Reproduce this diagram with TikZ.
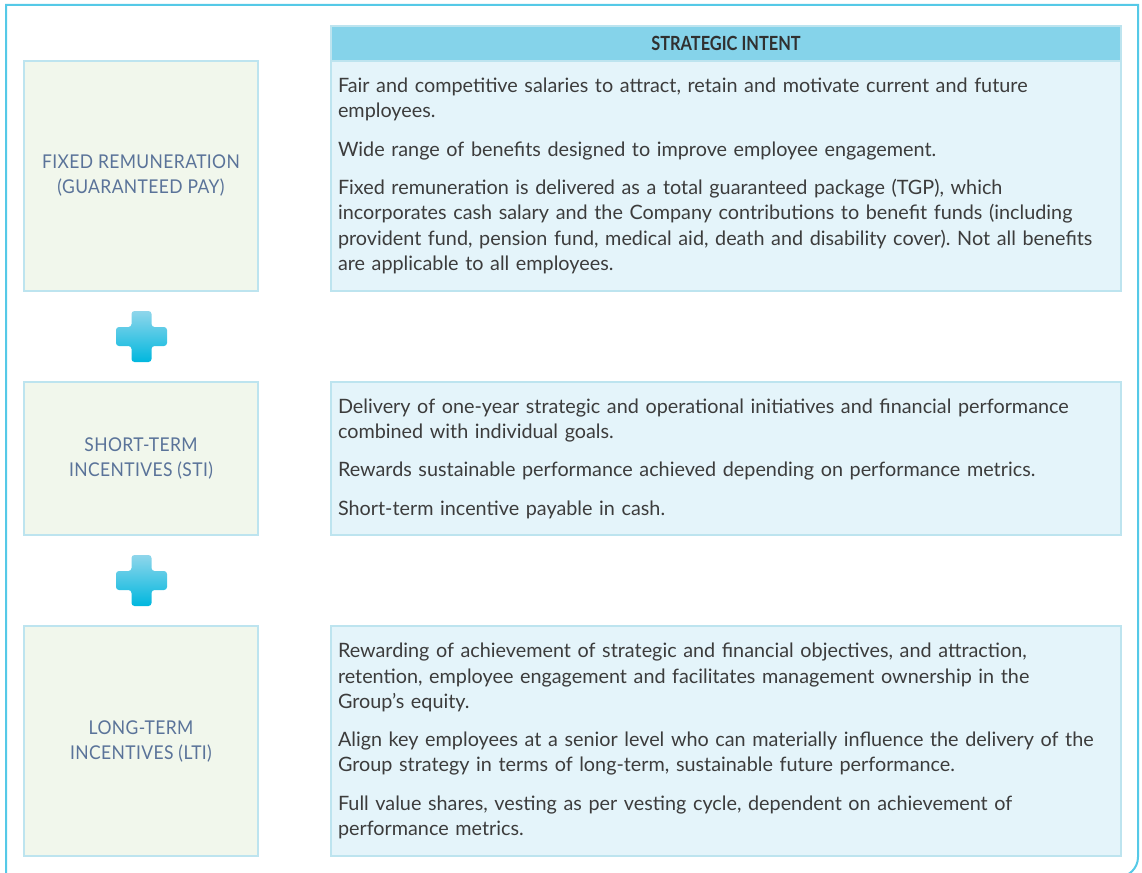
\documentclass[tikz,border=0pt]{standalone}
\usepackage{fontspec}
\setmainfont{Lato}
\newfontfamily\labelfont[LetterSpace=2,FakeStretch=0.92]{Lato}
\usepackage{xcolor}
\usepackage{graphicx}
\usetikzlibrary{positioning}
\frenchspacing

\definecolor{frameblue}{HTML}{55C9E7}
\definecolor{headblue}{HTML}{85D3EA}
\definecolor{bodyblue}{HTML}{E4F4FA}
\definecolor{edgeblue}{HTML}{BDE4EF}
\definecolor{leftgreen}{HTML}{F1F7EC}
\definecolor{labelblue}{HTML}{5A7399}
\definecolor{textgray}{HTML}{3C3C3C}
\definecolor{plustop}{HTML}{8FD6EB}
\definecolor{plusbot}{HTML}{00B7DE}

\begin{document}
\begin{tikzpicture}[
  x=1pt, y=-1pt,
  typebox/.style={rectangle, draw=edgeblue, line width=1.2pt, fill=leftgreen, minimum width=234pt, align=center, text=labelblue, font={\labelfont\fontsize{19}{25}\selectfont}},
  intentbox/.style={rectangle, draw=edgeblue, line width=1.2pt, fill=bodyblue, minimum width=790pt, text width=776pt, inner xsep=7pt, align=left, text=textgray, font={\fontsize{19.8}{25.3}\selectfont}}
]
\useasboundingbox (0,0) rectangle (1142,872);
% outer frame
\draw[frameblue, line width=2pt] (6,900) -- (6,5) -- (1138,5) [rounded corners=20pt] -- (1138,877) -- (1000,877);

% left column
\node[typebox, minimum height=230pt] (fixed) at (141,176) {FIXED REMUNERATION\\(GUARANTEED PAY)};
\node[typebox, minimum height=153pt] (sti) at (141,458.5) {SHORT-TERM\\INCENTIVES (STI)};
\node[typebox, minimum height=230pt] (lti) at (141,741) {LONG-TERM\\INCENTIVES (LTI)};

% right column
\node[rectangle, draw=edgeblue, line width=1.2pt, fill=headblue, minimum width=790pt, minimum height=35pt, text=textgray!80!black, font={\fontsize{19.5}{22}\selectfont}] (intent) at (726,43.5) {\scalebox{0.84}[1]{\bfseries STRATEGIC INTENT}};
\node[intentbox, minimum height=230pt] (fixedtxt) at (726,176) {Fair and competitive salaries to attract, retain and motivate current and future\\employees.\\[13pt]
Wide range of benefits designed to improve employee engagement.\\[13pt]
Fixed remuneration is delivered as a total guaranteed package (TGP), which\\incorporates cash salary and the Company contributions to benefit funds (including\\provident fund, pension fund, medical aid, death and disability cover). Not all benefits\\are applicable to all employees.};
\node[intentbox, minimum height=153pt] (stitxt) at (726,458.5) {Delivery of one-year strategic and operational initiatives and financial performance\\combined with individual goals.\\[13pt]
Rewards sustainable performance achieved depending on performance metrics.\\[13pt]
Short-term incentive payable in cash.};
\node[intentbox, minimum height=230pt] (ltitxt) at (726,741) {Rewarding of achievement of strategic and financial objectives, and attraction,\\retention, employee engagement and facilitates management ownership in the\\Group's equity.\\[13pt]
Align key employees at a senior level who can materially influence the delivery of the\\Group strategy in terms of long-term, sustainable future performance.\\[13pt]
Full value shares, vesting as per vesting cycle, dependent on achievement of\\performance metrics.};

% plus signs
\foreach \cy in {336.5,580.5}
  \shade[top color=plustop, bottom color=plusbot, rounded corners=3pt]
    (131.5,\cy-25.5) -- (151.5,\cy-25.5) -- (151.5,\cy-9.5) -- (167,\cy-9.5) -- (167,\cy+9.5) -- (151.5,\cy+9.5)
    -- (151.5,\cy+25.5) -- (131.5,\cy+25.5) -- (131.5,\cy+9.5) -- (116,\cy+9.5) -- (116,\cy-9.5) -- (131.5,\cy-9.5) -- cycle;
\end{tikzpicture}
\end{document}
